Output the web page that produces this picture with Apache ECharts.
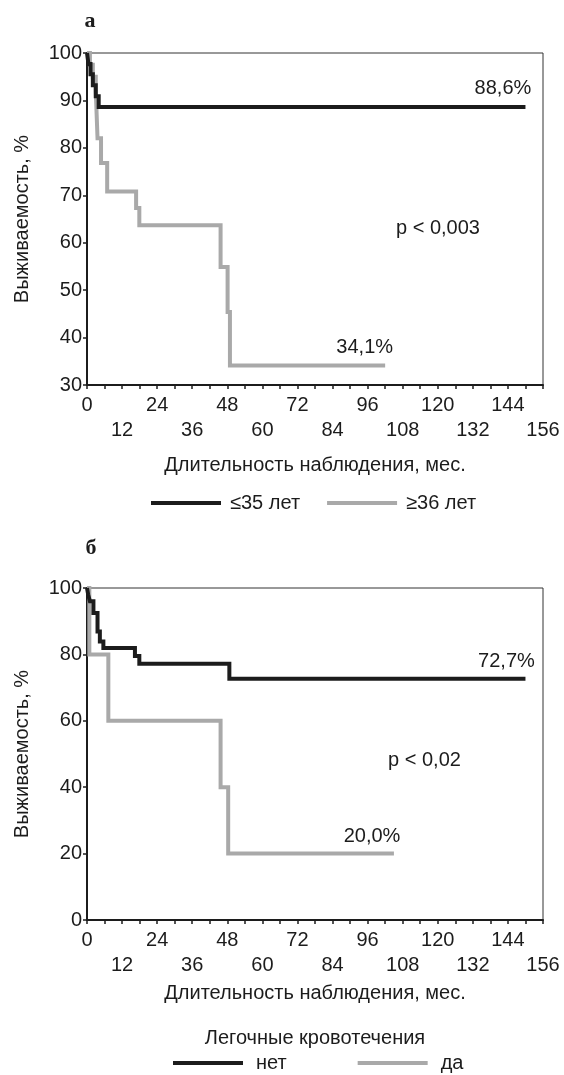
<!DOCTYPE html>
<html>
<head>
<meta charset="utf-8">
<script src="https://cdn.jsdelivr.net/npm/echarts@6/dist/echarts.min.js"></script>
<style>
  html, body { margin: 0; padding: 0; background: #ffffff; }
  #chart { width: 564px; height: 1075px; }
</style>
</head>
<body>
<div id="chart"></div>
<script>
// Panel а: survival by age group (months, survival %)
const ageYoungName = '≤35 лет';
const ageYoungMonths = [0, 0.5, 1.2, 2, 3, 4, 150];
const ageYoungSurv   = [100, 97.7, 95.5, 93.2, 90.9, 88.6, 88.6];

const ageOldName = '≥36 лет';
const ageOldMonths = [0, 1, 2, 3, 3.6, 4.8, 6.9, 16.8, 17.9, 45.7, 48.1, 48.9, 102];
const ageOldSurv   = [100, 97.5, 95, 92, 82, 76.8, 70.8, 67.3, 63.7, 54.9, 45.4, 34.1, 34.1];

const pAgeText = 'p < 0,003';

// Panel б: survival by pulmonary bleeding
const bleedNoName = 'нет';
const bleedNoMonths = [0, 0.4, 1, 2.2, 3.6, 4.4, 5.6, 16.4, 17.9, 48.7, 150];
const bleedNoSurv   = [100, 98, 96, 92.5, 86.9, 83.9, 81.9, 79.5, 77.2, 72.7, 72.7];

const bleedYesName = 'да';
const bleedYesMonths = [0, 0.8, 7.3, 45.7, 48.3, 105];
const bleedYesSurv   = [100, 80, 60, 40, 20, 20];

const pBleedText = 'p < 0,02';

// Axis ticks and texts
const xMax = 156;
const xTickStep = 6;
const yTicksTop = { min: 30, max: 100, step: 10 };
const yTicksBottom = { min: 0, max: 100, step: 20 };
const xTitle = 'Длительность наблюдения, мес.';
const yTitle = 'Выживаемость, %';
const bleedLegendTitle = 'Легочные кровотечения';

const FONT = '"Liberation Sans", Arial, sans-serif';
const INK = '#1c1c1c';
const GREY = '#a9a9a9';
const FS = 20;

const pairs = (xs, ys) => xs.map((x, i) => [x, ys[i]]);
const pct = v => v.toFixed(1).replace('.', ',') + '%';
const last = arr => arr[arr.length - 1];

function xAxisFor(gridIndex, nameGap) {
  return {
    type: 'value', gridIndex, min: 0, max: xMax, interval: xTickStep,
    name: xTitle, nameLocation: 'middle', nameGap,
    nameTextStyle: { fontFamily: FONT, fontSize: FS, color: INK },
    axisLine: { show: true, onZero: false, lineStyle: { color: INK, width: 2 } },
    axisTick: { show: true, inside: false, length: 4, lineStyle: { color: INK, width: 1.5 } },
    splitLine: { show: false },
    axisLabel: {
      interval: 0, margin: 8, fontFamily: FONT, fontSize: FS, color: INK, lineHeight: 25,
      showMaxLabel: true, showMinLabel: true,
      formatter: v => (v % 24 === 0 ? String(v) : (v % 12 === 0 ? '\n' + v : ''))
    }
  };
}

function yAxisFor(gridIndex, t) {
  return {
    type: 'value', gridIndex, min: t.min, max: t.max, interval: t.step,
    name: yTitle, nameLocation: 'middle', nameGap: 55, nameRotate: 90,
    nameTextStyle: { fontFamily: FONT, fontSize: FS, color: INK },
    axisLine: { show: true, onZero: false, lineStyle: { color: INK, width: 2 } },
    axisTick: { show: true, inside: false, length: 4, lineStyle: { color: INK, width: 1.5 } },
    splitLine: { show: false },
    axisLabel: { margin: 5, fontFamily: FONT, fontSize: FS, color: INK }
  };
}

function endNote(coord, text, dy) {
  return {
    coord, symbol: 'circle', symbolSize: 1, itemStyle: { color: 'rgba(0,0,0,0)' },
    label: {
      show: true, position: 'inside', offset: [0, dy], formatter: text,
      fontFamily: FONT, fontSize: FS, color: INK
    }
  };
}

function kmSeries(name, xi, months, surv, color, note) {
  return {
    name, type: 'line', xAxisIndex: xi, yAxisIndex: xi, step: 'end',
    symbol: 'none', data: pairs(months, surv),
    lineStyle: { color, width: 4, join: 'miter', cap: 'butt' },
    itemStyle: { color },
    markPoint: { silent: true, animation: false, data: [note] }
  };
}

function legendFor(names, left, top, gap, textPad) {
  return {
    data: names, left, top, padding: 0,
    icon: 'rect', itemWidth: 70, itemHeight: 4, itemGap: gap,
    textStyle: { fontFamily: FONT, fontSize: FS, color: INK, padding: [0, 0, 0, textPad] },
    selectedMode: false
  };
}

function textAt(text, x, y, font) {
  return { type: 'text', style: { text, x, y, align: 'center', verticalAlign: 'middle', font, fill: INK } };
}

const chart = echarts.init(document.getElementById('chart'), null, { renderer: 'canvas' });

const bodyFont = FS + 'px ' + FONT;
const letterFont = 'bold 22px "Liberation Serif", "Times New Roman", serif';

chart.setOption({
  animation: false,
  backgroundColor: '#ffffff',
  textStyle: { fontFamily: FONT },
  grid: [
    { left: 87, right: 21, top: 53, height: 332, show: true, borderColor: '#333', borderWidth: 1, backgroundColor: 'transparent' },
    { left: 87, right: 21, top: 588, height: 332, show: true, borderColor: '#333', borderWidth: 1, backgroundColor: 'transparent' }
  ],
  xAxis: [xAxisFor(0, 70), xAxisFor(1, 63)],
  yAxis: [yAxisFor(0, yTicksTop), yAxisFor(1, yTicksBottom)],
  legend: [
    legendFor([ageYoungName, ageOldName], 151, 493, 27, 4),
    legendFor([bleedNoName, bleedYesName], 173, 1053, 71, 8)
  ],
  series: [
    kmSeries(ageOldName, 0, ageOldMonths, ageOldSurv, GREY,
      endNote([95, last(ageOldSurv)], pct(last(ageOldSurv)), -18)),
    kmSeries(ageYoungName, 0, ageYoungMonths, ageYoungSurv, INK,
      endNote([142.3, last(ageYoungSurv)], pct(last(ageYoungSurv)), -19)),
    kmSeries(bleedYesName, 1, bleedYesMonths, bleedYesSurv, GREY,
      endNote([97.5, last(bleedYesSurv)], pct(last(bleedYesSurv)), -17)),
    kmSeries(bleedNoName, 1, bleedNoMonths, bleedNoSurv, INK,
      endNote([143.5, last(bleedNoSurv)], pct(last(bleedNoSurv)), -17))
  ],
  graphic: [
    textAt('а', 90, 21, letterFont),
    textAt('б', 91, 548, letterFont),
    textAt(pAgeText, 438, 228, bodyFont),
    textAt(pBleedText, 424.5, 760, bodyFont),
    textAt(bleedLegendTitle, 315, 1038, bodyFont)
  ]
});
</script>
</body>
</html>
